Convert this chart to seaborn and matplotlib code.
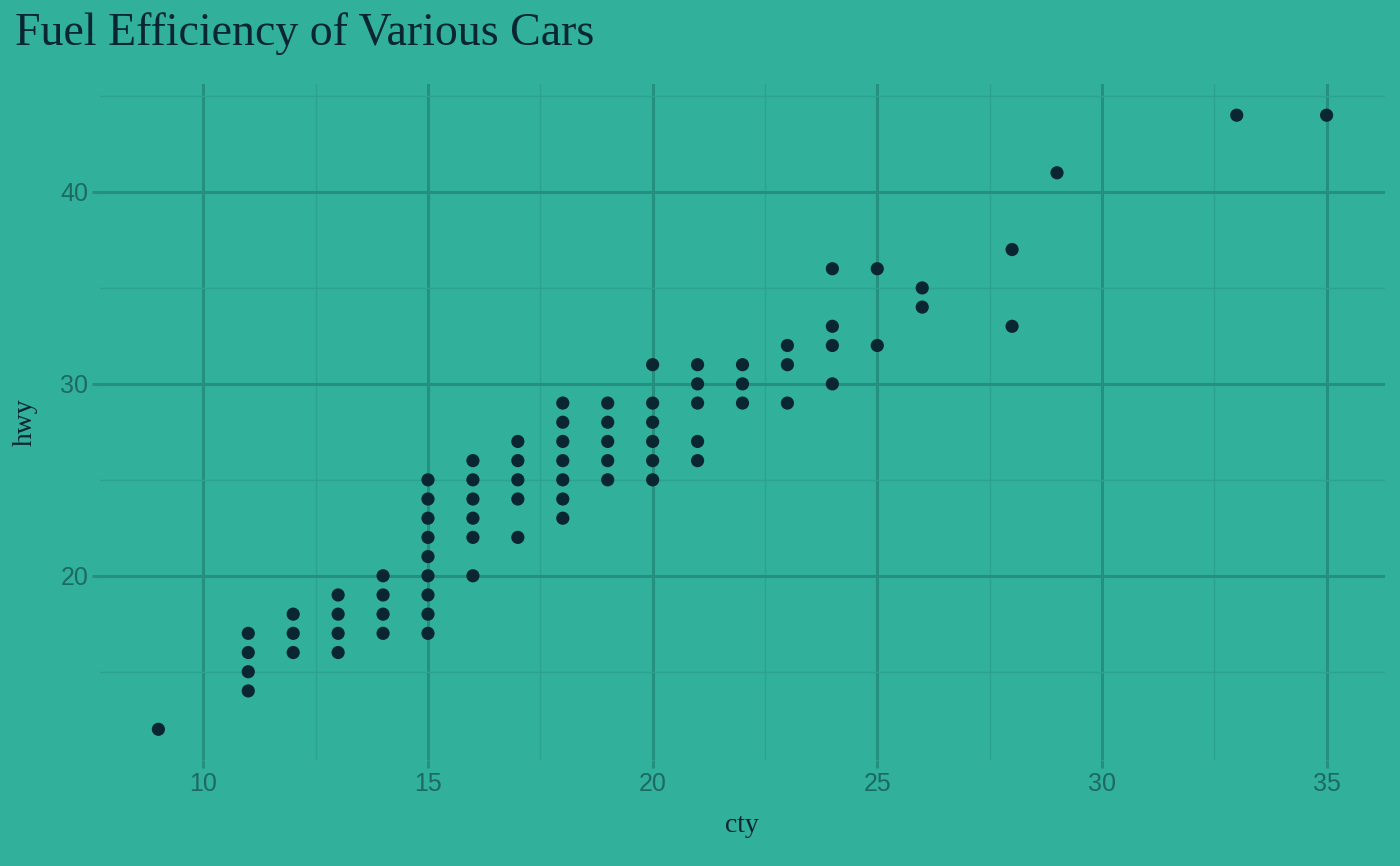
import matplotlib
matplotlib.use("Agg")
import matplotlib.pyplot as plt
import seaborn as sns
import pandas as pd

# unique (cty, hwy) pairs
cty = [9,
       11, 11, 11, 11,
       12, 12, 12,
       13, 13, 13, 13,
       14, 14, 14, 14,
       15, 15, 15, 15, 15, 15, 15, 15, 15,
       16, 16, 16, 16, 16, 16,
       17, 17, 17, 17, 17,
       18, 18, 18, 18, 18, 18, 18,
       19, 19, 19, 19, 19,
       20, 20, 20, 20, 20, 20,
       21, 21, 21, 21, 21,
       22, 22, 22,
       23, 23, 23,
       24, 24, 24, 24,
       25, 25,
       26, 26,
       28, 28,
       29,
       33,
       35]
hwy = [12,
       17, 16, 15, 14,
       18, 17, 16,
       19, 18, 17, 16,
       20, 19, 18, 17,
       25, 24, 23, 22, 21, 20, 19, 18, 17,
       26, 25, 24, 23, 22, 20,
       27, 26, 25, 24, 22,
       29, 28, 27, 26, 25, 24, 23,
       29, 28, 27, 26, 25,
       31, 29, 28, 27, 26, 25,
       31, 30, 29, 27, 26,
       31, 30, 29,
       32, 31, 29,
       36, 33, 32, 30,
       36, 32,
       35, 34,
       37, 33,
       41,
       44,
       44]

x_ticks = [10, 15, 20, 25, 30, 35]
y_ticks = [20, 30, 40]

bg = "#31b09c"
grid_major = "#26907f"
grid_minor = "#2ca38f"
tick_col = "#1d6a61"
dark = "#0a2630"

df = pd.DataFrame({"cty": cty, "hwy": hwy})

fig = plt.figure(figsize=(14, 8.66), dpi=100, facecolor=bg)
ax = fig.add_axes([100 / 1400, 1 - 760 / 866, 1285 / 1400, (760 - 84.5) / 866])
ax.set_facecolor(bg)

sns.scatterplot(data=df, x="cty", y="hwy", ax=ax, color=dark, s=90,
                edgecolor="none", linewidth=0, zorder=3)

ax.set_xlim(7.7, 36.3)
ax.set_ylim(10.4, 45.6)
ax.set_xticks(x_ticks)
ax.set_yticks(y_ticks)
ax.set_xticks([12.5, 17.5, 22.5, 27.5, 32.5], minor=True)
ax.set_yticks([15, 25, 35, 45], minor=True)
ax.grid(which="major", color=grid_major, linewidth=2.2, zorder=0)
ax.grid(which="minor", color=grid_minor, linewidth=1.0, zorder=0)
ax.set_axisbelow(True)
for s in ax.spines.values():
    s.set_visible(False)
ax.tick_params(which="major", length=6, width=2.2, color=grid_major,
               labelcolor=tick_col, labelsize=18, pad=2.5)
ax.tick_params(which="minor", length=0)
for lab in ax.get_xticklabels() + ax.get_yticklabels():
    lab.set_family(["Liberation Sans", "DejaVu Sans"])

ax.set_xlabel("")
ax.set_ylabel("")
fig.text(742 / 1400, 1 - 825 / 866, "cty", ha="center", va="center",
         fontsize=20, color=dark, family=["Liberation Serif", "DejaVu Serif"])
fig.text(25 / 1400, 1 - 422 / 866, "hwy", ha="center", va="center", rotation=90,
         fontsize=20, color=dark, family=["Liberation Serif", "DejaVu Serif"])
fig.text(15 / 1400, 1 - 45 / 866, "Fuel Efficiency of Various Cars", ha="left",
         va="baseline", fontsize=33, color=dark,
         family=["Liberation Serif", "DejaVu Serif"])

fig.savefig("out.png", dpi=100, facecolor=bg)
